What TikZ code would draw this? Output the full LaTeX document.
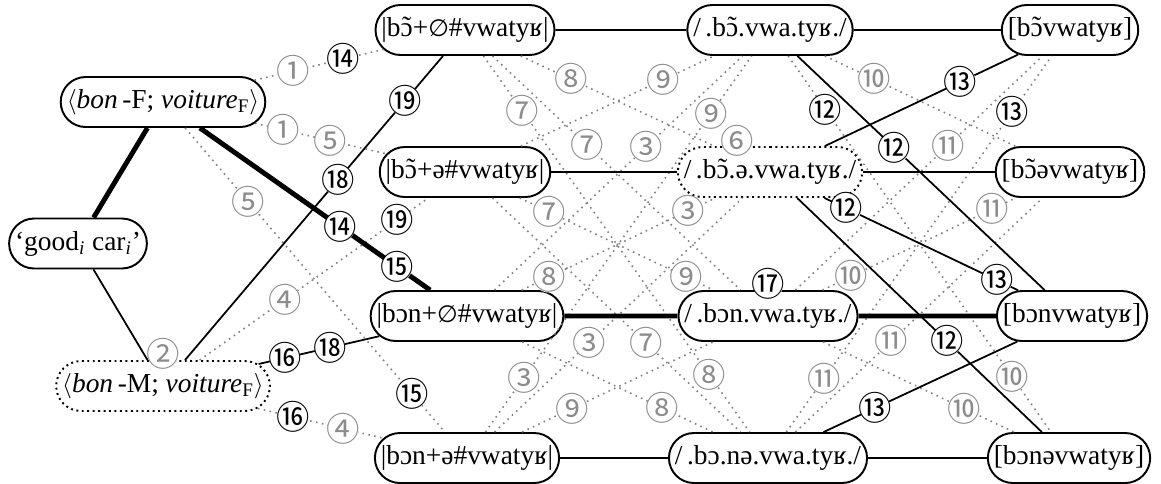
\documentclass[tikz,border=0pt]{standalone}
\usepackage{fontspec}
\setmainfont{Liberation Serif}
\newfontfamily\numfont{Noto Sans CJK JP}
\newfontfamily\nulfont{DejaVu Sans}
\usetikzlibrary{%
  shapes.misc,% wg. rounded rectangle
  calc%
}
\newcommand{\nul}{{\nulfont\fontsize{13.5}{15}\selectfont ∅}}
\newcommand{\nas}[1]{\ooalign{#1\cr\hidewidth\raisebox{0.1ex}{˜}\hidewidth\cr}}

\begin{document}
\begin{tikzpicture}[
  font=\fontsize{15.6}{18}\selectfont,
  line width=1pt,
  cand/.style={rounded rectangle, draw, fill=white, line width=1.1pt,
    minimum height=1cm, inner xsep=1.5pt},
  thick path/.style={line width=2.8pt},
  elim/.style={draw=gray, line width=0.9pt, dash pattern=on 0.9pt off 2.5pt},
  numg/.style={circle, fill=white, inner sep=-3pt, text=gray!90,
    font=\numfont\fontsize{19}{20}\selectfont},
  numb/.style={numg, text=black},
]
\useasboundingbox (0,0) rectangle (23.22,-9.66);

% meaning and inputs
\node[cand] (gc) at (1.56,-4.87) {‘good\textsubscript{\textit{i}} car\textsubscript{\textit{i}}’};
\node[cand] (lexF) at (3.26,-2.04) {$\langle$\textit{bon}\,-F; \textit{voiture}\textsubscript{F}$\rangle$};
\node[cand,dotted] (lexM) at (3.26,-7.72) {$\langle$\textit{bon}\,-M; \textit{voiture}\textsubscript{F}$\rangle$};

% underlying forms
\node[cand] (ur1) at (9.30,-0.60) {|b\nas{ɔ}+\nul\#vwatyʁ|};
\node[cand] (ur2) at (9.30,-3.44) {|b\nas{ɔ}+ə\#vwatyʁ|};
\node[cand] (ur3) at (9.34,-6.32) {|bɔn+\nul\#vwatyʁ|};
\node[cand] (ur4) at (9.34,-9.16) {|bɔn+ə\#vwatyʁ|};

% surface forms
\node[cand] (sr1) at (15.40,-0.60) {/\,.b\nas{ɔ}.vwa.tyʁ./};
\node[cand,dotted] (sr2) at (15.40,-3.44) {/\,.b\nas{ɔ}.ə.vwa.tyʁ./};
\node[cand] (sr3) at (15.36,-6.32) {/\,.bɔn.vwa.tyʁ./};
\node[cand] (sr4) at (15.36,-9.16) {/\,.bɔ.nə.vwa.tyʁ./};

% phonetic forms
\node[cand] (ph1) at (21.40,-0.60) {[b\nas{ɔ}vwatyʁ]};
\node[cand] (ph2) at (21.40,-3.44) {[b\nas{ɔ}əvwatyʁ]};
\node[cand] (ph3) at (21.44,-6.32) {[bɔnvwatyʁ]};
\node[cand] (ph4) at (21.38,-9.16) {[bɔnəvwatyʁ]};

% eliminated mappings
\foreach \a/\b in {lexF/ur1,lexF/ur2,lexF/ur4,lexM/ur2,lexM/ur4,
  ur1/sr2,ur1/sr3,ur1/sr4,ur2/sr1,ur2/sr3,ur2/sr4,
  ur3/sr1,ur3/sr2,ur3/sr4,ur4/sr1,ur4/sr2,ur4/sr3,
  sr1/ph2,sr1/ph4,sr3/ph1,sr3/ph2,sr3/ph4,sr4/ph1,sr4/ph2} {
  \draw[elim] (\a) -- (\b);
}

% other mappings
\foreach \a/\b in {gc/lexM,lexM/ur1,lexM/ur3,ur1/sr1,ur2/sr2,ur4/sr4,
  sr1/ph1,sr2/ph2,sr4/ph4,sr1/ph3,sr2/ph1,sr2/ph3,sr2/ph4,sr4/ph3} {
  \draw (\a) -- (\b);
}

% winning path
\draw[thick path] (gc) -- (lexF) -- (ur3) -- (sr3) -- (ph3);

% constraint numbers
\foreach \a/\b/\t/\n in {lexF/ur1/0.43/①,lexF/ur2/0.397/①,lexF/ur2/0.553/⑤,
  lexF/ur4/0.28/⑤,lexM/ur2/0.404/④,lexM/ur4/0.592/④,
  ur1/sr2/0.347/⑧,ur1/sr3/0.403/⑦,ur1/sr4/0.188/⑦,ur1/sr4/0.805/⑧,
  ur2/sr1/0.65/⑨,ur2/sr3/0.277/⑦,ur2/sr3/0.729/⑨,ur2/sr4/0.597/⑦,
  ur3/sr1/0.59/③,ur3/sr2/0.27/⑧,ur3/sr2/0.729/③,ur3/sr4/0.647/⑧,
  ur4/sr1/0.188/③,ur4/sr1/0.805/⑨,ur4/sr2/0.403/③,ur4/sr3/0.35/⑨,
  sr1/ph2/0.346/⑩,sr1/ph4/0.81/⑩,sr3/ph1/0.595/⑪,sr3/ph2/0.276/⑩,
  sr3/ph2/0.741/⑪,sr3/ph4/0.651/⑩,sr4/ph1/0.186/⑪,sr4/ph2/0.409/⑪} {
  \node[numg] at ($(\a)!\t!(\b)$) {\n};
}
\foreach \a/\b/\t/\n in {lexF/ur1/0.596/⑭,lexF/ur4/0.819/⑮,
  lexF/ur3/0.582/⑭,lexF/ur3/0.77/⑮,lexM/ur1/0.579/⑱,lexM/ur1/0.801/⑲,
  lexM/ur2/0.775/⑲,lexM/ur3/0.401/⑯,lexM/ur3/0.549/⑱,lexM/ur4/0.428/⑯,
  sr1/ph3/0.412/⑫,sr1/ph4/0.186/⑫,sr2/ph1/0.635/⑬,sr2/ph3/0.252/⑫,
  sr2/ph3/0.751/⑬,sr2/ph4/0.591/⑫,sr4/ph1/0.81/⑬,sr4/ph3/0.352/⑬} {
  \node[numb] at ($(\a)!\t!(\b)$) {\n};
}
\node[numg] (n2) at ($(lexM.north)+(0,0.12)$) {②};
\node[numg] (n6) at ($(sr2.north)+(-0.66,0.1)$) {⑥};
\node[numb] (n17) at ($(sr3.north)+(0,0.12)$) {⑰};

\end{tikzpicture}
\end{document}
